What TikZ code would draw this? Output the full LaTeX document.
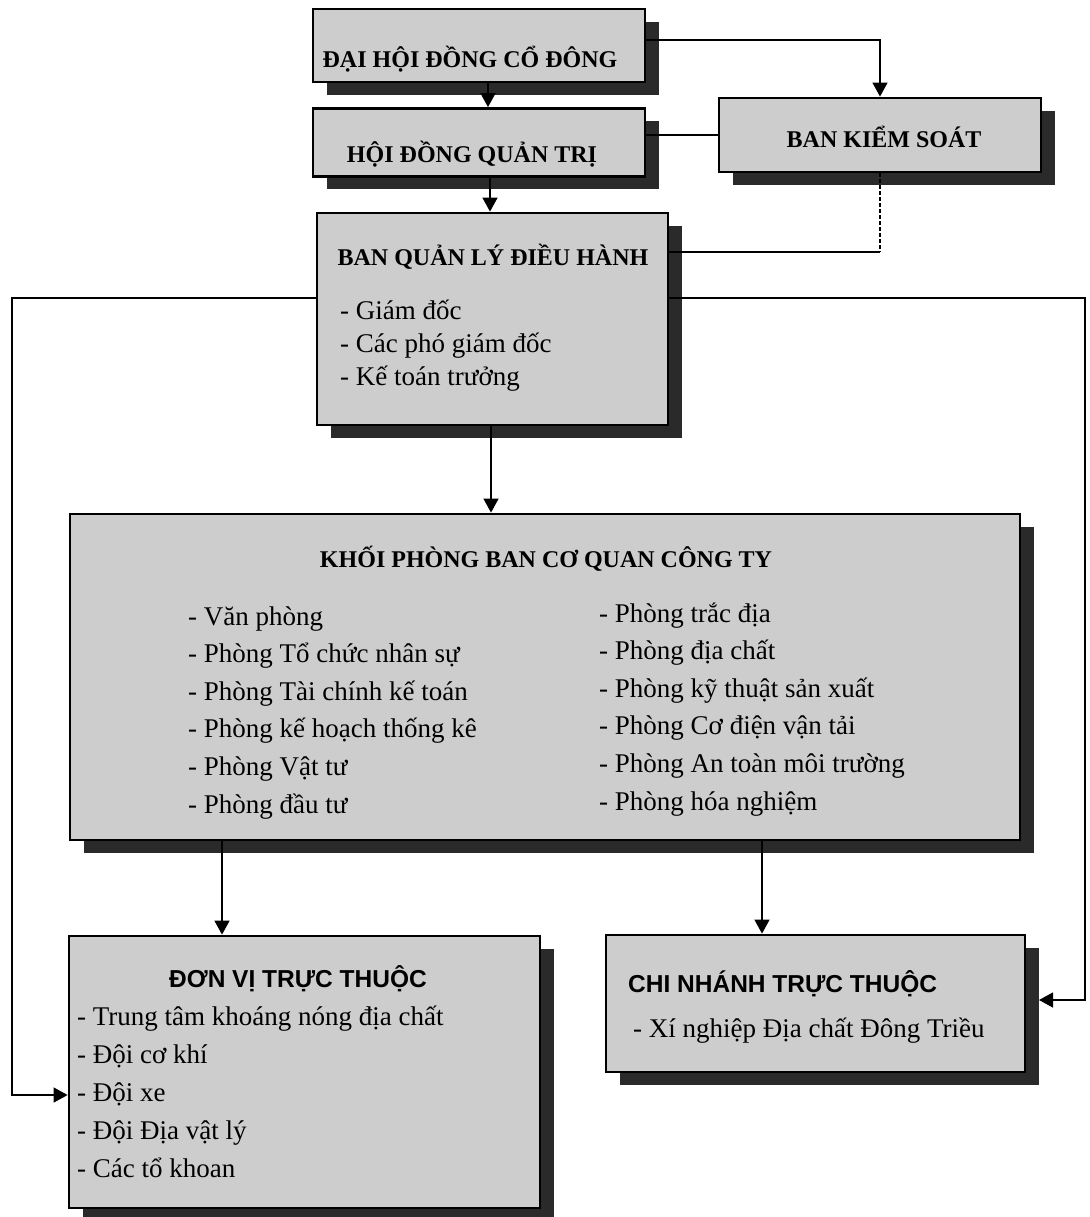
\documentclass[tikz,border=0pt]{standalone}
\usepackage{fontspec}
\setmainfont{Liberation Serif}
\newfontfamily\sansfam{Liberation Sans}
\usetikzlibrary{shadows,arrows.meta}
\definecolor{boxgray}{RGB}{205,205,205}
\definecolor{shadowgray}{RGB}{42,42,42}
\begin{document}
\begin{tikzpicture}[x=1pt,y=-1pt,
  box/.style={draw=black, line width=2.8pt, fill=boxgray, rectangle, inner sep=0pt,
    drop shadow={shadow xshift=14pt, shadow yshift=-13pt, fill=shadowgray, opacity=1}},
  ttl/.style={font=\fontsize{24}{28}\selectfont\bfseries, inner sep=0pt},
  sttl/.style={font=\fontsize{24.5}{28}\selectfont\sansfam\bfseries, inner sep=0pt},
  itm/.style={font=\fontsize{27}{31}\selectfont, inner sep=0pt, anchor=base west},
  conn/.style={line width=1.4pt},
  arr/.style={conn, -{Triangle[length=14pt,width=15pt]}}]
\fill[white] (0,0) rectangle (1089,1217);
\useasboundingbox (0,0) rectangle (1089,1217);

% boxes
\node[box, minimum width=332pt, minimum height=73pt] (A) at (479,45.5) {};
\node[box, minimum width=332pt, minimum height=68pt] (B) at (479,142.5) {};
\node[box, minimum width=322pt, minimum height=74pt] (C) at (880,135) {};
\node[box, minimum width=351pt, minimum height=212pt] (D) at (492.5,319) {};
\node[box, minimum width=950pt, minimum height=326pt] (E) at (545,677) {};
\node[box, minimum width=471pt, minimum height=272pt] (F) at (304.5,1072) {};
\node[box, minimum width=419pt, minimum height=137pt] (G) at (815.5,1003.5) {};

% helper coordinates
\coordinate (c1) at (488,0);
\coordinate (c2) at (490,0);
\coordinate (c3) at (491,0);
\coordinate (c4) at (222,0);
\coordinate (c5) at (762,0);
\coordinate (yac) at (0,40);
\coordinate (L1) at (12,298);
\coordinate (L2) at (12,1095);
\coordinate (R1) at (1085,298);
\coordinate (R2) at (1085,1000);
\coordinate (k1) at (880,252);
\coordinate (gs) at (1039,1000);

% connectors
\draw[arr] (A.south -| c1) -- (B.north -| c1);
\draw[arr] (B.south -| c2) -- (D.north -| c2);
\draw[arr] (A.east |- yac) -| (C.north);
\draw[conn] (C.west) -- (C.west -| B.east);
\draw[conn, dash pattern=on 4pt off 2pt] (C.south) -- (k1);
\draw[conn] (k1) -- (D.east |- k1);
\draw[arr] (D.south -| c3) -- (E.north -| c3);
\draw[arr] (E.south -| c4) -- (F.north -| c4);
\draw[arr] (E.south -| c5) -- (G.north -| c5);
\draw[arr] (D.west |- L1) -- (L1) -- (L2) -- (F.west |- L2);
\draw[arr] (D.east |- R1) -- (R1) -- (R2) -- (gs);

% titles
\node[ttl, anchor=base] (tA) at (470,68) {ĐẠI HỘI ĐỒNG CỔ ĐÔNG};
\node[ttl, anchor=base] (tB) at (472,163) {HỘI ĐỒNG QUẢN TRỊ};
\node[ttl, anchor=base] (tC) at (884,148) {BAN KIỂM SOÁT};
\node[ttl, anchor=base] (tD) at (493,265) {BAN QUẢN LÝ ĐIỀU HÀNH};
\node[ttl, anchor=base] (tE) at (546,567) {KHỐI PHÒNG BAN CƠ QUAN CÔNG TY};
\node[sttl, anchor=base] (tF) at (298,987) {ĐƠN VỊ TRỰC THUỘC};
\node[sttl, anchor=base west] (tG) at (628,992) {CHI NHÁNH TRỰC THUỘC};

% lists
\foreach \t [count=\i] in {- Giám đốc, - Các phó giám đốc, - Kế toán trưởng}
  \node[itm] (d\i) at (340,{319+33*(\i-1)}) {\t};
\foreach \t [count=\i] in {- Văn phòng, - Phòng Tổ chức nhân sự, - Phòng Tài chính kế toán, - Phòng kế hoạch thống kê, - Phòng Vật tư, - Phòng đầu tư}
  \node[itm] (el\i) at (188,{625+37.6*(\i-1)}) {\t};
\foreach \t [count=\i] in {- Phòng trắc địa, - Phòng địa chất, - Phòng kỹ thuật sản xuất, - Phòng Cơ điện vận tải, - Phòng An toàn môi trường, - Phòng hóa nghiệm}
  \node[itm] (er\i) at (599,{622+37.6*(\i-1)}) {\t};
\foreach \t [count=\i] in {- Trung tâm khoáng nóng địa chất, - Đội cơ khí, - Đội xe, - Đội Địa vật lý, - Các tổ khoan}
  \node[itm] (f\i) at (77,{1025+38*(\i-1)}) {\t};
\node[itm] (g1) at (633,1037) {- Xí nghiệp Địa chất Đông Triều};
\end{tikzpicture}
\end{document}
